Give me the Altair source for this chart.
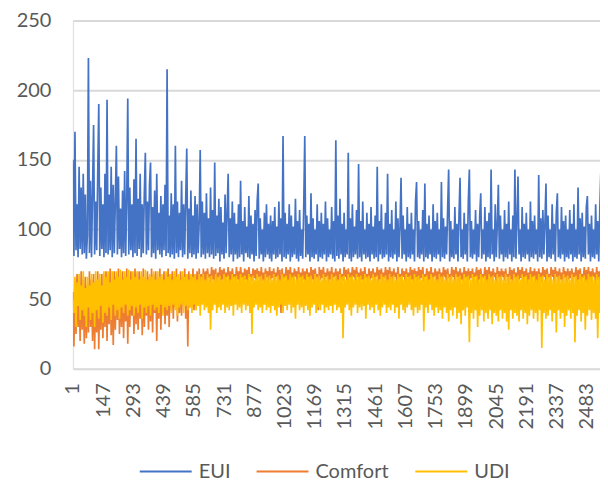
import altair as alt
import pandas as pd

series_names = ["EUI", "Comfort", "UDI"]
series_colors = ["#4472C4", "#ED7D31", "#FFC000"]
tick_labels = [1, 147, 293, 439, 585, 731, 877, 1023, 1169, 1315, 1461, 1607,
               1753, 1899, 2045, 2191, 2337, 2483]
y_ticks = [0, 50, 100, 150, 200, 250]
x_step = 5  # one sampled value every 5 simulation indices

eui = [
    150, 81, 170, 85, 118, 80, 145, 86, 130, 82, 140, 83, 125, 79, 96, 223,
    83, 135, 80, 128, 175, 82, 120, 85, 140, 190, 81, 130, 86, 118, 80, 140,
    83, 193, 82, 125, 85, 145, 80, 132, 83, 120, 160, 82, 138, 86, 115, 80,
    128, 83, 142, 81, 120, 194, 82, 130, 85, 118, 80, 136, 83, 165, 81, 122,
    86, 140, 80, 118, 83, 126, 155, 82, 120, 85, 132, 148, 80, 116, 83, 128,
    79, 140, 85, 112, 82, 124, 80, 118, 85, 132, 81, 215, 83, 110, 80, 126,
    82, 118, 79, 160, 83, 120, 80, 112, 85, 135, 80, 118, 82, 122, 158, 79,
    115, 83, 128, 80, 110, 82, 124, 79, 118, 83, 105, 157, 80, 120, 82, 112,
    79, 126, 83, 108, 80, 130, 82, 114, 79, 148, 81, 110, 83, 122, 77, 116,
    82, 105, 79, 125, 83, 112, 140, 80, 108, 82, 120, 77, 112, 82, 104, 79,
    118, 80, 135, 82, 106, 77, 116, 83, 102, 80, 124, 79, 110, 82, 104, 77,
    114, 81, 120, 133, 79, 108, 82, 100, 77, 112, 80, 118, 82, 104, 79, 110,
    77, 106, 82, 116, 79, 102, 80, 120, 82, 108, 77, 167, 80, 112, 79, 104,
    82, 118, 77, 110, 80, 102, 82, 122, 79, 106, 77, 114, 81, 100, 79, 116,
    167, 80, 110, 82, 104, 77, 126, 80, 108, 79, 100, 82, 118, 77, 106, 80,
    112, 79, 104, 82, 120, 77, 108, 80, 100, 82, 116, 79, 106, 77, 164, 81,
    110, 79, 122, 82, 104, 77, 112, 80, 100, 82, 155, 79, 108, 77, 118, 80,
    102, 82, 114, 79, 147, 80, 106, 77, 120, 82, 100, 79, 112, 80, 104, 77,
    116, 82, 102, 79, 110, 80, 145, 77, 106, 82, 118, 79, 100, 80, 112, 82,
    140, 77, 104, 80, 114, 79, 100, 82, 120, 77, 108, 80, 102, 137, 79, 110,
    82, 100, 77, 116, 80, 104, 79, 112, 82, 100, 77, 120, 134, 80, 106, 79,
    100, 82, 114, 77, 133, 80, 104, 79, 110, 82, 100, 77, 118, 80, 106, 79,
    112, 82, 100, 77, 134, 80, 108, 79, 102, 82, 114, 143, 77, 106, 80, 100,
    79, 116, 82, 104, 77, 110, 137, 80, 100, 79, 112, 82, 104, 77, 120, 143,
    80, 106, 79, 100, 82, 114, 77, 104, 80, 110, 126, 79, 100, 82, 116, 77,
    106, 80, 112, 79, 143, 82, 100, 77, 118, 80, 104, 132, 79, 110, 82, 100,
    77, 114, 80, 104, 79, 120, 82, 100, 77, 110, 80, 143, 79, 106, 138, 82,
    100, 77, 116, 80, 104, 79, 112, 82, 100, 77, 120, 80, 106, 79, 110, 82,
    100, 77, 139, 80, 108, 79, 114, 82, 104, 133, 77, 110, 80, 100, 79, 118,
    82, 104, 77, 112, 126, 80, 100, 79, 116, 82, 106, 77, 110, 80, 100, 79,
    114, 82, 104, 77, 118, 80, 100, 79, 130, 82, 108, 77, 112, 80, 102, 79,
    116, 124, 82, 104, 77, 110, 80, 100, 79, 118, 82, 106, 77, 114, 141, 80,
]

comfort = [
    55, 16, 62, 25, 68, 30, 60, 20, 70, 28, 64, 18, 66, 22, 60, 26,
    70, 30, 64, 20, 68, 14, 62, 26, 70, 14, 58, 28, 68, 22, 64, 30,
    70, 20, 66, 32, 72, 24, 62, 17, 70, 28, 66, 35, 72, 25, 64, 30,
    70, 22, 66, 34, 72, 18, 64, 30, 70, 38, 66, 25, 72, 32, 68, 28,
    70, 36, 66, 24, 72, 30, 64, 38, 70, 28, 66, 34, 72, 26, 68, 40,
    70, 20, 66, 36, 72, 28, 64, 40, 70, 32, 66, 38, 72, 30, 68, 42,
    70, 36, 66, 44, 72, 34, 64, 40, 70, 38, 66, 46, 72, 36, 68, 16,
    70, 44, 66, 50, 72, 42, 68, 52, 70, 46, 72, 55, 68, 48, 72, 56,
    70, 63, 72, 65, 68, 61, 73, 64, 71, 62, 72, 44, 69, 65, 73, 62,
    71, 64, 72, 61, 69, 66, 73, 60, 70, 63, 72, 65, 68, 62, 73, 64,
    70, 62, 73, 65, 69, 60, 72, 64, 71, 61, 73, 66, 68, 63, 72, 65,
    71, 64, 72, 66, 70, 60, 73, 63, 69, 62, 72, 65, 70, 61, 73, 64,
    70, 65, 72, 62, 69, 66, 73, 60, 71, 40, 72, 64, 68, 65, 73, 62,
    71, 61, 73, 64, 69, 62, 72, 66, 70, 60, 73, 65, 69, 63, 72, 64,
    70, 62, 72, 66, 69, 61, 73, 64, 71, 63, 72, 65, 68, 42, 73, 64,
    71, 65, 73, 62, 69, 66, 72, 60, 70, 64, 73, 63, 69, 66, 72, 61,
    70, 60, 72, 64, 68, 63, 73, 66, 71, 61, 72, 65, 69, 62, 73, 66,
    71, 62, 73, 66, 69, 60, 72, 64, 70, 63, 73, 65, 68, 61, 72, 64,
    70, 65, 72, 62, 69, 66, 73, 61, 71, 64, 72, 63, 69, 65, 73, 62,
    71, 60, 73, 64, 70, 63, 72, 66, 69, 61, 73, 65, 68, 62, 72, 66,
    70, 63, 72, 66, 69, 60, 73, 64, 71, 62, 72, 65, 70, 61, 73, 64,
    71, 65, 73, 62, 68, 66, 72, 60, 70, 64, 73, 63, 69, 66, 72, 62,
    70, 61, 72, 64, 69, 62, 73, 66, 71, 60, 72, 65, 68, 63, 73, 66,
    71, 62, 73, 66, 70, 60, 72, 64, 69, 63, 73, 65, 70, 61, 72, 64,
    70, 65, 72, 62, 69, 66, 73, 60, 71, 64, 72, 63, 68, 65, 73, 62,
    71, 60, 73, 64, 70, 62, 72, 66, 69, 61, 73, 65, 70, 63, 72, 66,
    70, 63, 72, 66, 68, 60, 73, 64, 71, 62, 72, 65, 69, 61, 73, 64,
    71, 65, 73, 62, 70, 66, 72, 60, 69, 64, 73, 63, 70, 66, 72, 61,
    70, 60, 72, 64, 69, 62, 73, 66, 71, 61, 72, 65, 68, 63, 73, 66,
    71, 62, 73, 66, 70, 60, 72, 64, 69, 63, 73, 65, 70, 61, 72, 64,
    70, 65, 72, 62, 69, 66, 73, 60, 71, 64, 72, 63, 68, 65, 73, 62,
    71, 60, 73, 64, 70, 62, 72, 66, 69, 61, 73, 64, 70, 63, 72, 66,
]

udi = [
    50, 40, 66, 30, 62, 45, 68, 35, 60, 42, 70, 38, 58, 30, 66, 44,
    60, 35, 68, 40, 62, 30, 70, 42, 64, 36, 68, 45, 60, 33, 70, 40,
    66, 38, 70, 44, 62, 35, 70, 46, 64, 38, 70, 42, 66, 36, 71, 44,
    64, 40, 70, 46, 66, 38, 71, 42, 64, 45, 70, 38, 66, 44, 70, 40,
    64, 46, 70, 36, 66, 44, 71, 40, 64, 45, 68, 38, 66, 46, 70, 42,
    64, 44, 70, 40, 66, 46, 68, 38, 64, 44, 70, 42, 66, 45, 68, 40,
    64, 46, 70, 42, 66, 38, 68, 44, 64, 46, 70, 40, 66, 45, 68, 42,
    64, 44, 68, 40, 66, 46, 68, 42, 64, 45, 68, 38, 66, 46, 68, 42,
    64, 44, 68, 40, 66, 28, 67, 42, 64, 46, 68, 40, 66, 44, 67, 42,
    64, 46, 68, 40, 66, 44, 67, 42, 64, 45, 68, 38, 66, 46, 67, 42,
    64, 44, 68, 40, 66, 46, 67, 42, 64, 45, 68, 40, 66, 25, 67, 44,
    64, 46, 68, 42, 66, 44, 67, 40, 64, 46, 68, 42, 66, 44, 67, 40,
    64, 45, 68, 42, 66, 38, 67, 44, 64, 46, 68, 40, 66, 45, 67, 42,
    64, 46, 68, 40, 66, 44, 67, 36, 64, 46, 68, 42, 66, 44, 67, 40,
    64, 45, 68, 42, 66, 38, 67, 44, 64, 46, 68, 40, 66, 44, 67, 42,
    64, 46, 68, 40, 66, 44, 67, 42, 64, 45, 68, 40, 66, 46, 67, 42,
    64, 44, 68, 40, 66, 22, 67, 44, 64, 46, 68, 42, 66, 38, 67, 44,
    64, 46, 68, 40, 66, 44, 67, 42, 64, 45, 68, 36, 66, 46, 67, 42,
    64, 44, 68, 40, 66, 46, 67, 42, 64, 38, 68, 44, 66, 46, 67, 40,
    64, 44, 68, 42, 66, 46, 67, 40, 64, 44, 68, 36, 66, 46, 67, 42,
    64, 40, 68, 44, 66, 46, 67, 42, 64, 38, 68, 44, 66, 40, 67, 42,
    64, 46, 68, 27, 66, 44, 67, 40, 64, 46, 68, 42, 66, 38, 67, 44,
    64, 40, 68, 42, 66, 36, 67, 44, 64, 40, 68, 34, 66, 42, 67, 38,
    64, 44, 68, 36, 66, 40, 67, 32, 64, 42, 68, 38, 66, 44, 67, 19,
    64, 40, 68, 36, 66, 42, 67, 30, 64, 38, 68, 42, 66, 34, 67, 40,
    64, 36, 68, 42, 66, 32, 67, 40, 64, 38, 68, 34, 66, 42, 67, 36,
    64, 40, 68, 34, 66, 28, 67, 42, 64, 36, 68, 40, 66, 38, 67, 34,
    64, 42, 68, 36, 66, 40, 67, 32, 64, 38, 68, 42, 66, 36, 67, 40,
    64, 34, 68, 42, 66, 15, 67, 40, 64, 36, 68, 38, 66, 42, 67, 34,
    64, 40, 68, 26, 66, 42, 67, 36, 64, 40, 68, 30, 66, 38, 67, 42,
    64, 36, 68, 40, 66, 19, 67, 38, 64, 42, 68, 34, 66, 40, 67, 28,
    64, 38, 68, 42, 66, 35, 67, 40, 64, 36, 68, 22, 66, 40, 67, 38,
]

rows = []
for name, values in zip(series_names, [eui, comfort, udi]):
    for i, v in enumerate(values):
        rows.append({"idx": 1 + i * x_step, "value": v, "series": name})
df = pd.DataFrame(rows)

FONT = "Lato"
GREY = "#595959"

color = alt.Color(
    "series:N",
    scale=alt.Scale(domain=series_names, range=series_colors),
    legend=alt.Legend(
        title=None,
        orient="none",
        direction="horizontal",
        legendX=66,
        legendY=425,
        symbolType="stroke",
        symbolSize=2704,
        symbolStrokeWidth=2,
        labelFontSize=20,
        labelFont=FONT,
        labelColor=GREY,
        labelOffset=6,
        columnPadding=22,
        padding=0,
    ),
)

x = alt.X(
    "idx:Q",
    scale=alt.Scale(domain=[1, 2547], nice=False, zero=False),
    axis=alt.Axis(
        title=None,
        values=tick_labels,
        format="d",
        labelAngle=270,
        labelAlign="right",
        labelBaseline="middle",
        labelPadding=14,
        labelFontSize=20,
        labelFont=FONT,
        labelColor=GREY,
        ticks=False,
        domain=False,
        grid=False,
        labelOverlap=False,
        labelFlush=False,
    ),
)
y = alt.Y(
    "value:Q",
    scale=alt.Scale(domain=[0, 250], nice=False),
    axis=alt.Axis(
        title=None,
        values=y_ticks,
        labelPadding=22,
        labelFontSize=20,
        labelFont=FONT,
        labelColor=GREY,
        ticks=False,
        domain=False,
        grid=True,
        gridColor="#D9D9D9",
        gridWidth=2,
    ),
)

layers = []
for name in series_names:
    layers.append(
        alt.Chart(df)
        .transform_filter(alt.datum.series == name)
        .mark_line(strokeWidth=1.7, clip=True)
        .encode(x=x, y=y, color=color)
    )

chart = (
    alt.layer(*layers)
    .properties(
        width=528,
        height=349,
        padding={"left": 8, "top": 2, "right": 0, "bottom": 0},
    )
    .configure_view(stroke=None)
    .configure(background="white")
)

chart.save("out.html", embed_options={"renderer": "svg", "actions": False})
